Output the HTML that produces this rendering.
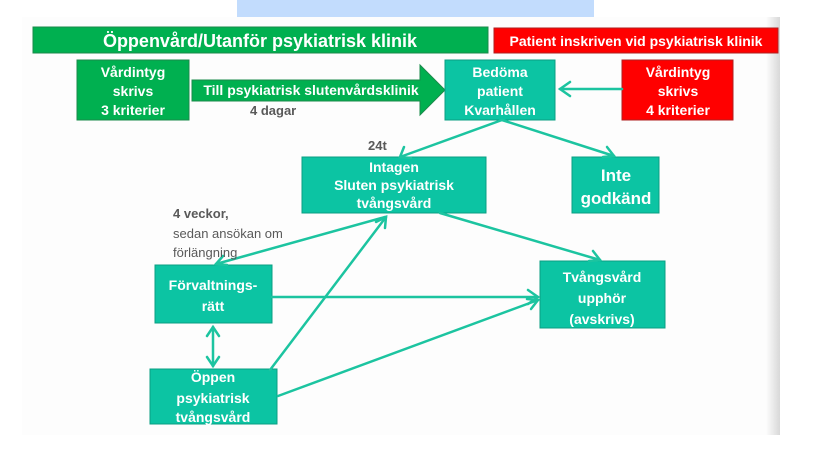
<!DOCTYPE html>
<html><head><meta charset="utf-8"><style>
body{margin:0;width:816px;height:464px;background:#fff;overflow:hidden;font-family:"Liberation Sans Narrow","Liberation Sans",sans-serif}
</style></head><body>
<svg width="816" height="464" xmlns="http://www.w3.org/2000/svg" font-family="Liberation Sans Narrow, Liberation Sans, sans-serif">
<defs>
<linearGradient id="sh" x1="0" x2="1"><stop offset="0" stop-color="#fdfdfd"/><stop offset="1" stop-color="#d8d8d8"/></linearGradient>
</defs>
<rect x="237" y="0" width="357" height="17" fill="#c2dcfd"/>
<rect x="22" y="17" width="758" height="418" fill="#fdfdfd"/>
<rect x="766" y="17" width="14" height="418" fill="url(#sh)"/>
<rect x="33" y="27" width="455" height="26" fill="#00b050" stroke="#1a8a4a"/>
<text x="260" y="47" text-anchor="middle" font-size="18" font-weight="bold" fill="#fff">Öppenvård/Utanför psykiatrisk klinik</text>
<rect x="494" y="28" width="284" height="25" fill="#ff0000" stroke="#b02020"/>
<text x="636" y="46" text-anchor="middle" font-size="14" font-weight="bold" fill="#fff">Patient inskriven vid psykiatrisk klinik</text>
<g font-weight="bold" fill="#fff" text-anchor="middle" font-size="14">
<rect x="77" y="60" width="112" height="60" fill="#00b050" stroke="#1a8a4a"/>
<text x="133" y="77">Vårdintyg</text><text x="133" y="96">skrivs</text><text x="133" y="115">3 kriterier</text>
<polygon points="192,80 420,80 420,65 445,90 420,115 420,101 192,101" fill="#00b050" stroke="#1a8a4a"/>
<text x="311" y="95">Till psykiatrisk slutenvårdsklinik</text>
<rect x="445" y="60" width="110" height="60" fill="#0cc4a3" stroke="#0a9e83"/>
<text x="500" y="77">Bedöma</text><text x="500" y="96">patient</text><text x="500" y="115">Kvarhållen</text>
<rect x="622" y="60" width="111" height="60" fill="#ff0000" stroke="#b02020"/>
<text x="678" y="77">Vårdintyg</text><text x="678" y="96">skrivs</text><text x="678" y="115">4 kriterier</text>
<rect x="302" y="157" width="184" height="56" fill="#0cc4a3" stroke="#0a9e83"/>
<text x="394" y="172">Intagen</text><text x="394" y="190">Sluten psykiatrisk</text><text x="394" y="208">tvångsvård</text>
<rect x="572" y="157" width="87" height="56" fill="#0cc4a3" stroke="#0a9e83"/>
<text x="616" y="181" font-size="17">Inte</text><text x="616" y="204" font-size="17">godkänd</text>
<rect x="155" y="265" width="117" height="58" fill="#0cc4a3" stroke="#0a9e83"/>
<text x="213" y="290">Förvaltnings-</text><text x="213" y="311">rätt</text>
<rect x="540" y="261" width="125" height="67" fill="#0cc4a3" stroke="#0a9e83"/>
<text x="602" y="282">Tvångsvård</text><text x="602" y="303">upphör</text><text x="602" y="324">(avskrivs)</text>
<rect x="150" y="369" width="127" height="55" fill="#0cc4a3" stroke="#0a9e83"/>
<text x="213" y="382">Öppen</text><text x="213" y="403">psykiatrisk</text><text x="213" y="422">tvångsvård</text>
</g>
<g stroke="#1cc4a0" stroke-width="2.5" fill="none" stroke-linecap="round">
<line x1="622" y1="89" x2="560" y2="89"/><polyline points="570,82 560,89 570,96"/>
<line x1="502" y1="120" x2="400" y2="157"/><polyline points="404,147 400,157 411,158"/>
<line x1="502" y1="120" x2="614" y2="156"/><polyline points="603,157 614,156 607,147"/>
<line x1="440" y1="213" x2="600" y2="260"/><polyline points="589,261 600,260 593,251"/>
<line x1="385" y1="217" x2="216" y2="264"/><polyline points="227,265 216,264 223,256"/>
<line x1="270" y1="370" x2="386" y2="217"/><polyline points="376,222 386,217 385,228"/>
<line x1="272" y1="297" x2="538" y2="297"/><polyline points="528,290 538,297 528,304"/>
<line x1="278" y1="396" x2="538" y2="300"/><polyline points="527,299 538,300 531,309"/>
<line x1="213" y1="327" x2="213" y2="366"/><polyline points="207,336 213,327 219,336"/><polyline points="207,357 213,366 219,357"/>
</g>
<g fill="#595959" font-family="Liberation Sans, sans-serif">
<text x="250" y="115" font-size="13" font-weight="bold">4 dagar</text>
<text x="368" y="150" font-size="13" font-weight="bold">24t</text>
<text x="173" y="218" font-size="13" font-weight="bold">4 veckor,</text>
<text x="173" y="238" font-size="13">sedan ansökan om</text>
<text x="173" y="257" font-size="13">förlängning</text>
</g>
</svg>
</body></html>
